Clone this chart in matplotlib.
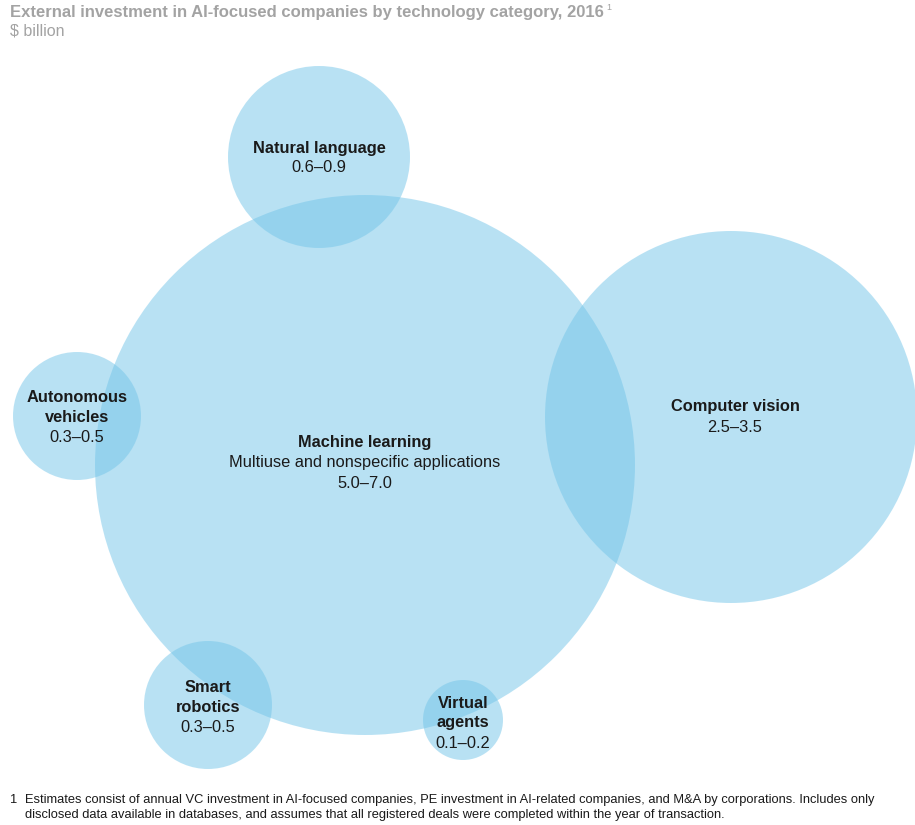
import matplotlib.pyplot as plt
from matplotlib.patches import Circle

plt.rcParams['font.family'] = ['Liberation Sans', 'DejaVu Sans']

# data
categories = ["Machine learning", "Computer vision", "Natural language",
              "Autonomous\nvehicles", "Smart\nrobotics", "Virtual\nagents"]
subtitles = ["Multiuse and nonspecific applications", "", "", "", "", ""]
low = [5.0, 2.5, 0.6, 0.3, 0.3, 0.1]
high = [7.0, 3.5, 0.9, 0.5, 0.5, 0.2]

# layout (pixel coords, y down)
centers = [(365, 465), (731, 417), (319, 157), (77, 416), (208, 705), (463, 720)]
radii = [270, 186, 91, 64, 64, 40]
label_x = [365, 735, 319, 77, 208, 463]
label_y = [443, 407, 148, 397, 688, 703]

fill = "#73C5E9"
ink = "#1a1a1a"
grey = "#a3a3a3"
step = 20

fig = plt.figure(figsize=(9.15, 8.25), dpi=100)
ax = fig.add_axes([0, 0, 1, 1])
ax.set_xlim(0, 915)
ax.set_ylim(825, 0)
ax.set_aspect("equal")
ax.axis("off")

for (cx, cy), r in zip(centers, radii):
    ax.add_patch(Circle((cx, cy), r, facecolor=fill, edgecolor="none", alpha=0.5))

for i, name in enumerate(categories):
    cx = label_x[i]
    y = label_y[i]
    for line in name.split("\n"):
        ax.text(cx, y, line, ha="center", va="center", fontsize=11.8,
                fontweight="bold", color=ink)
        y += step
    if subtitles[i]:
        ax.text(cx, y, subtitles[i], ha="center", va="center", fontsize=11.8, color=ink)
        y += step
    ax.text(cx, y, f"{low[i]:.1f}\u2013{high[i]:.1f}", ha="center", va="center",
            fontsize=11.8, color=ink)

ax.text(10, 12, "External investment in AI-focused companies by technology category, 2016",
        ha="left", va="center", fontsize=11.95, fontweight="bold", color=grey)
ax.text(606, 7, "1", ha="left", va="center", fontsize=6.5, color=grey)
ax.text(10, 31, "$ billion", ha="left", va="center", fontsize=11.5, color=grey)

foot = ["Estimates consist of annual VC investment in AI-focused companies, PE investment in "
        "AI-related companies, and M&A by corporations. Includes only",
        "disclosed data available in databases, and assumes that all registered deals were "
        "completed within the year of transaction."]
ax.text(10, 800, "1", ha="left", va="center", fontsize=9.3, color=ink)
for k, line in enumerate(foot):
    ax.text(25, 800 + 15 * k, line, ha="left", va="center", fontsize=9.3, color=ink)

fig.savefig("out.png", dpi=100, facecolor="white")
